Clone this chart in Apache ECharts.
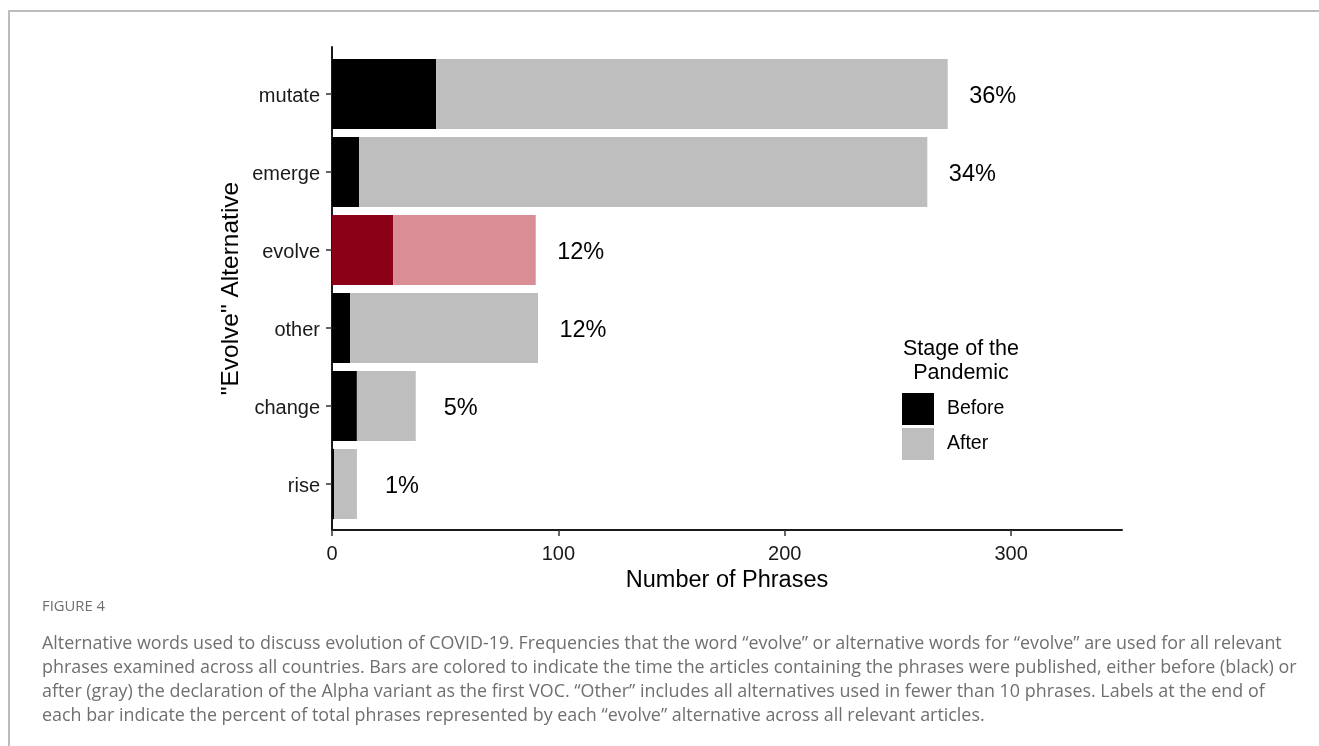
<!DOCTYPE html>
<html>
<head>
<meta charset="utf-8">
<script src="https://cdn.jsdelivr.net/npm/echarts@6/dist/echarts.min.js"></script>
<style>
  html, body { margin: 0; padding: 0; background: #fff; }
  #wrap { position: relative; width: 1319px; height: 746px; overflow: hidden; }
  #frame { position: absolute; left: 8px; top: 10px; width: 1320px; height: 740px;
           border-top: 2px solid #bcbcbc; border-left: 2px solid #bcbcbc; box-sizing: border-box; }
  #chart { position: absolute; left: 0; top: 0; width: 1319px; height: 746px; }
  #caption { position: absolute; left: 42px; top: 596px; width: 1270px;
             font-family: "Open Sans", "Noto Sans", sans-serif; color: #6f6f6f; }
  #caption .fig { font-size: 14.8px; line-height: 18px; margin-bottom: 16px; }
  #caption .txt { font-size: 17.9px; line-height: 24px; white-space: nowrap; }
</style>
</head>
<body>
<div id="wrap">
  <div id="frame"></div>
  <div id="chart"></div>
  <div id="caption">
    <div class="fig">FIGURE 4</div>
    <div class="txt">Alternative words used to discuss evolution of COVID-19. Frequencies that the word “evolve” or alternative words for “evolve” are used for all relevant<br>phrases examined across all countries. Bars are colored to indicate the time the articles containing the phrases were published, either before (black) or<br>after (gray) the declaration of the Alpha variant as the first VOC. “Other” includes all alternatives used in fewer than 10 phrases. Labels at the end of<br>each bar indicate the percent of total phrases represented by each “evolve” alternative across all relevant articles.</div>
  </div>
</div>
<script>
// ---- data ----
const categories = ['mutate', 'emerge', 'evolve', 'other', 'change', 'rise'];
const beforeValues = [46, 12, 27, 8, 11, 1];
const afterValues = [226, 251, 63, 83, 26, 10];
const pctLabels = ['36%', '34%', '12%', '12%', '5%', '1%'];
const xTicks = [0, 100, 200, 300];
const xMax = 349;
const highlightCategory = 'evolve';
const legendTitle = 'Stage of the\nPandemic';
const xTitle = 'Number of Phrases';
const yTitle = '"Evolve" Alternative';

// ---- styles ----
const FONT = '"Liberation Sans", Arial, sans-serif';
const C_BEFORE = '#000000', C_AFTER = '#bebebe';
const C_BEFORE_HI = '#8b0017', C_AFTER_HI = '#d98e95';
const AXIS_COLOR = '#1a1a1a';

const chart = echarts.init(document.getElementById('chart'), null, { renderer: 'canvas' });

function mkData(values, normal, hi) {
  return values.map((v, i) => ({
    value: v,
    itemStyle: { color: categories[i] === highlightCategory ? hi : normal }
  }));
}

const option = {
  backgroundColor: 'transparent',
  animation: false,
  textStyle: { fontFamily: FONT },
  grid: [
    { left: 332, width: 790, top: 55, height: 468, containLabel: false },
    { left: 332, width: 790, top: 47, height: 483, containLabel: false }
  ],
  xAxis: [
    { gridIndex: 0, type: 'value', min: 0, max: xMax, show: false },
    {
      gridIndex: 1, type: 'value', min: 0, max: xMax, interval: 100,
      axisLine: { show: true, onZero: false, lineStyle: { color: AXIS_COLOR, width: 2 } },
      axisTick: { show: true, length: 6, customValues: xTicks, lineStyle: { color: '#333', width: 1.5 } },
      axisLabel: { show: true, customValues: xTicks, fontSize: 20, color: AXIS_COLOR, margin: 14, fontFamily: FONT },
      splitLine: { show: false },
      name: xTitle, nameLocation: 'middle', nameGap: 37,
      nameTextStyle: { fontSize: 23.5, color: '#000', fontFamily: FONT }
    }
  ],
  yAxis: [
    {
      gridIndex: 0, type: 'category', data: categories, inverse: true,
      axisLine: { show: false },
      axisTick: { show: true, length: 6, alignWithLabel: true, lineStyle: { color: '#333', width: 1.5 } },
      axisLabel: {
        margin: 12,
        formatter: v => '{a|' + v + '}',
        rich: { a: { fontSize: 20, color: AXIS_COLOR, fontFamily: FONT, padding: [5, 0, 0, 0] } }
      },
      splitLine: { show: false }
    },
    {
      gridIndex: 1, type: 'value', min: 0, max: 1,
      axisLine: { show: true, onZero: false, lineStyle: { color: AXIS_COLOR, width: 2 } },
      axisTick: { show: false }, axisLabel: { show: false }, splitLine: { show: false },
      name: yTitle, nameLocation: 'middle', nameGap: 88, nameRotate: 90,
      nameTextStyle: { fontSize: 24.5, color: '#000', fontFamily: FONT }
    }
  ],
  legend: {
    orient: 'vertical', left: 902, top: 393, padding: 0,
    itemWidth: 32, itemHeight: 32, itemGap: 3,
    icon: 'rect',
    data: ['Before', 'After'],
    textStyle: { fontSize: 19.5, color: '#000', fontFamily: FONT, padding: [0, 0, 0, 8] },
    selectedMode: false
  },
  graphic: [
    {
      type: 'text', left: 900, top: 337,
      style: { text: legendTitle, font: '21.5px ' + FONT, fill: '#000', textAlign: 'center', lineHeight: 24, width: 122, align: 'center' }
    }
  ],
  series: [
    {
      name: 'Before', type: 'bar', stack: 'total', xAxisIndex: 0, yAxisIndex: 0,
      barWidth: '90%', itemStyle: { color: C_BEFORE },
      data: mkData(beforeValues, C_BEFORE, C_BEFORE_HI)
    },
    {
      name: 'After', type: 'bar', stack: 'total', xAxisIndex: 0, yAxisIndex: 0,
      barWidth: '90%', itemStyle: { color: C_AFTER },
      data: mkData(afterValues, C_AFTER, C_AFTER_HI),
      label: {
        show: true, position: 'right', distance: 45, align: 'center', offset: [0, 3],
        fontSize: 23.5, color: '#000', fontFamily: FONT,
        formatter: p => pctLabels[p.dataIndex]
      }
    }
  ]
};
chart.setOption(option);
</script>
</body>
</html>
